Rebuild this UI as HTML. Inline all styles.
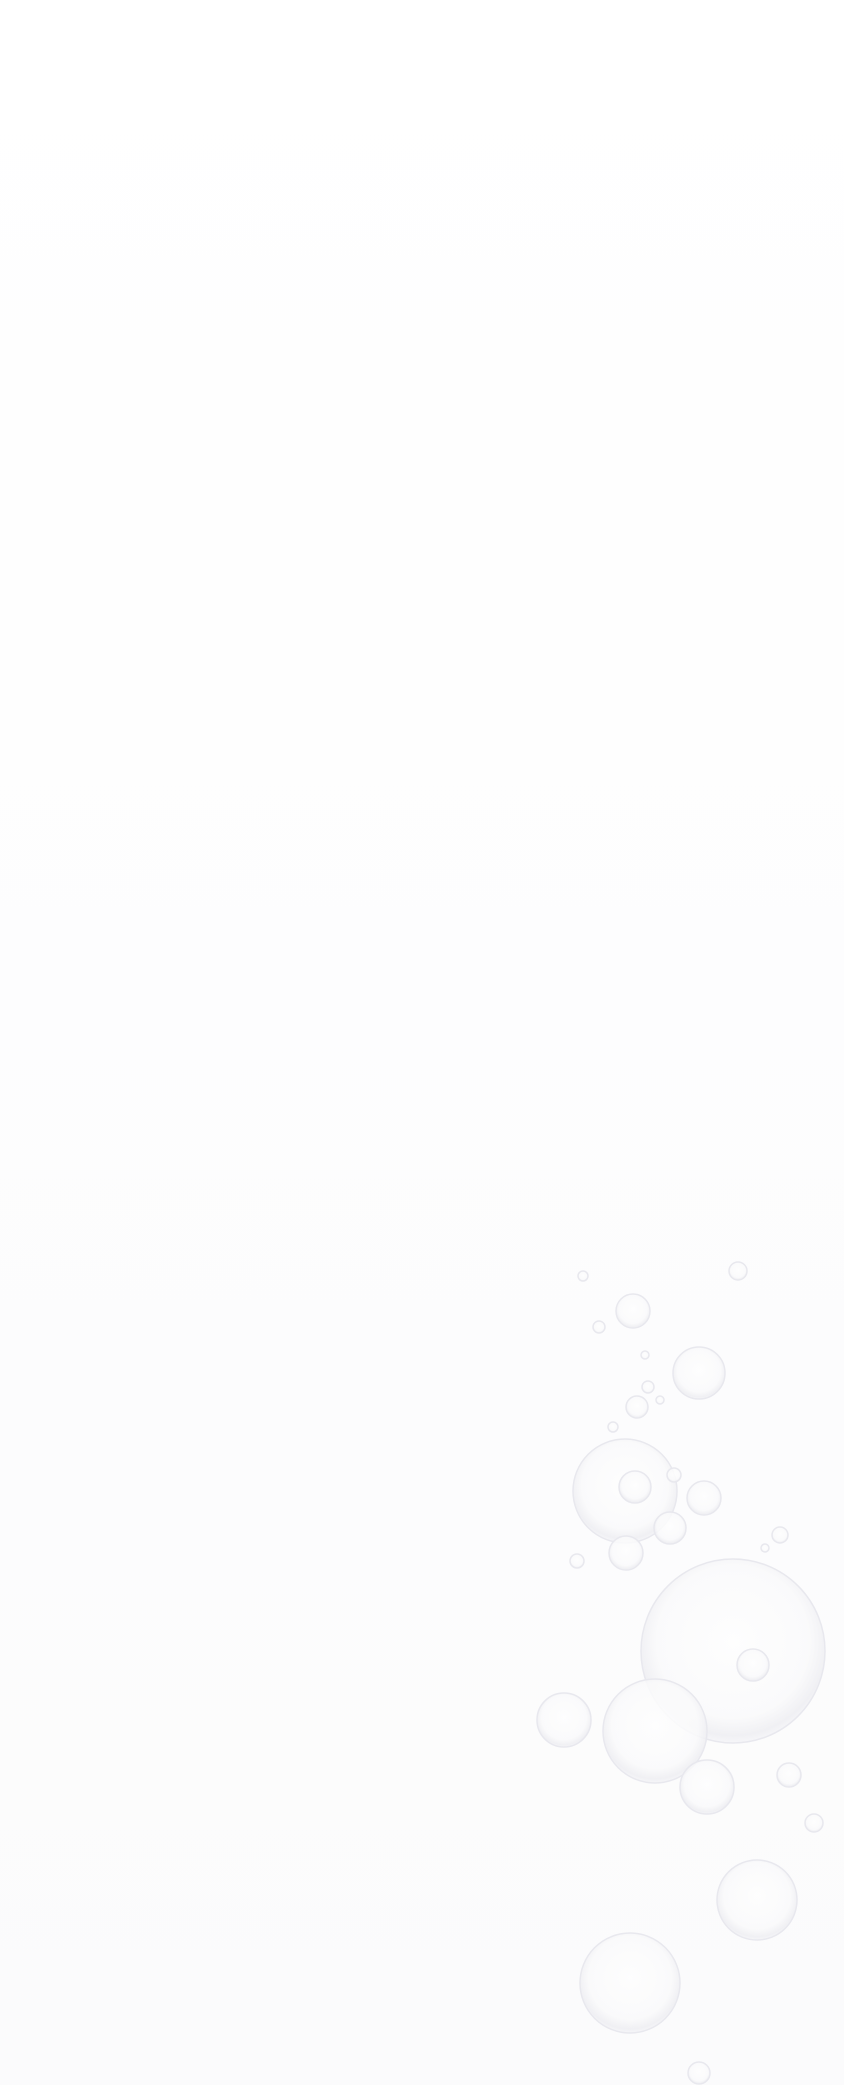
<!DOCTYPE html>
<html><head><meta charset="utf-8"><style>
html,body{margin:0;padding:0;width:844px;height:2085px;background:#fff;overflow:hidden}
svg{display:block}
</style></head><body>
<svg width="844" height="2085" viewBox="0 0 844 2085" xmlns="http://www.w3.org/2000/svg">
<defs>
<linearGradient id="bg" x1="0" y1="0" x2="0" y2="1">
<stop offset="0" stop-color="#ffffff"/><stop offset="1" stop-color="#fbfbfc"/>
</linearGradient>
<radialGradient id="b" cx="0.5" cy="0.45" r="0.55">
<stop offset="0" stop-color="#fefefe"/><stop offset="0.75" stop-color="#fafafb"/><stop offset="0.93" stop-color="#eeeef2"/><stop offset="1" stop-color="#f5f5f8"/>
</radialGradient>
</defs>
<rect width="844" height="2085" fill="url(#bg)"/>
<g fill="url(#b)" stroke="#e8e8ee" stroke-width="1.5" fill-opacity="0.85">
<circle cx="583" cy="1276" r="5"/>
<circle cx="738" cy="1271" r="9"/>
<circle cx="633" cy="1311" r="17"/>
<circle cx="599" cy="1327" r="6"/>
<circle cx="645" cy="1355" r="4"/>
<circle cx="699" cy="1373" r="26"/>
<circle cx="648" cy="1387" r="6"/>
<circle cx="660" cy="1400" r="4"/>
<circle cx="637" cy="1407" r="11"/>
<circle cx="613" cy="1427" r="5"/>
<circle cx="625" cy="1491" r="52"/>
<circle cx="635" cy="1487" r="16"/>
<circle cx="674" cy="1475" r="7"/>
<circle cx="704" cy="1498" r="17"/>
<circle cx="670" cy="1528" r="16"/>
<circle cx="626" cy="1553" r="17"/>
<circle cx="577" cy="1561" r="7"/>
<circle cx="780" cy="1535" r="8"/>
<circle cx="765" cy="1548" r="4"/>
<circle cx="733" cy="1651" r="92"/>
<circle cx="753" cy="1665" r="16"/>
<circle cx="564" cy="1720" r="27"/>
<circle cx="655" cy="1731" r="52"/>
<circle cx="707" cy="1787" r="27"/>
<circle cx="789" cy="1775" r="12"/>
<circle cx="814" cy="1823" r="9"/>
<circle cx="757" cy="1900" r="40"/>
<circle cx="630" cy="1983" r="50"/>
<circle cx="699" cy="2073" r="11"/>
</g>
</svg>
</body></html>
